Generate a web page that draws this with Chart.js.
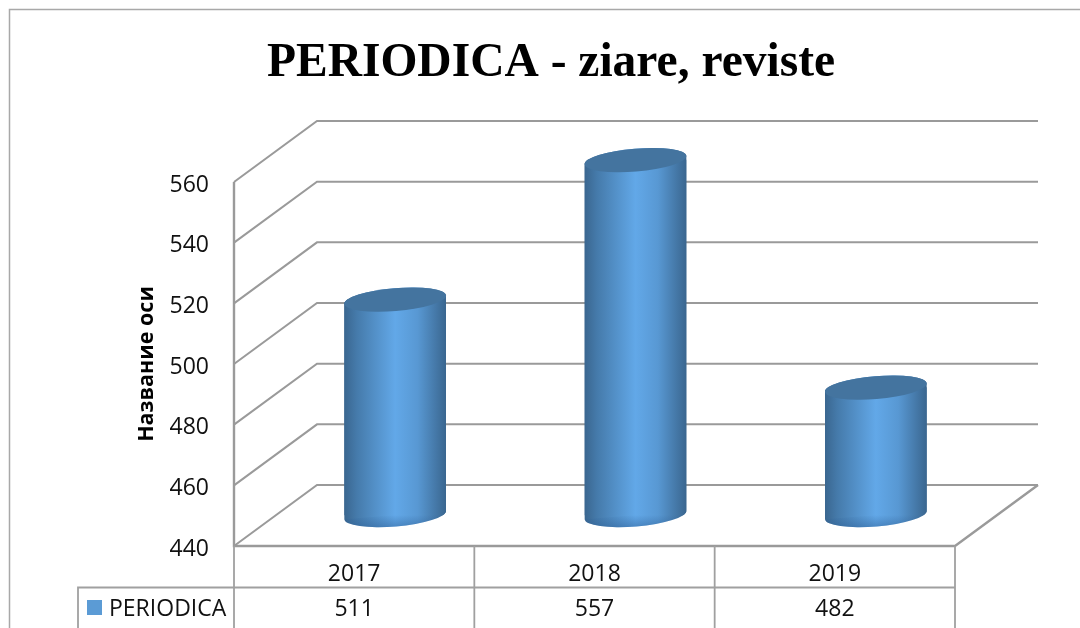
<!DOCTYPE html>
<html><head><meta charset="utf-8">
<style>html,body{margin:0;padding:0;background:#fff}canvas{display:block}</style>
<script src="https://cdn.jsdelivr.net/npm/chart.js@4"></script>
</head><body><canvas id="c" width="1080" height="628"></canvas>
<script>
const categories = ['2017', '2018', '2019'];
const seriesName = 'PERIODICA';
const seriesValues = [511, 557, 482];
const titleText = 'PERIODICA - ziare, reviste';
const yTitle = 'Название оси';
const yMin = 440, yMax = 560, yStep = 20;

const LINE = '#9a9a9a';
const DX = 83, DY = -61;          // depth of the 3D box
const BX = 41, BY = -31;          // cylinders stand mid-depth
const A = 51, B = 11.5, ROT = -0.083;
const BAR_W = 102;

function cylGrad(ctx, cx) {
  const g = ctx.createLinearGradient(cx - 51, 0, cx + 51, 0);
  g.addColorStop(0, '#3a668f');
  g.addColorStop(0.12, '#457aaa');
  g.addColorStop(0.5, '#62a8e8');
  g.addColorStop(0.72, '#5898d3');
  g.addColorStop(1, '#3a668f');
  return g;
}
function silhouette(ctx, x, top, base) {
  ctx.moveTo(x - A * Math.cos(ROT), top - A * Math.sin(ROT));
  ctx.ellipse(x, top, A, B, ROT, Math.PI, 2 * Math.PI);
  ctx.lineTo(x + A * Math.cos(ROT), base + A * Math.sin(ROT));
  ctx.ellipse(x, base, A, B, ROT, 0, Math.PI);
  ctx.closePath();
}

const box3d = {
  id: 'box3d',
  beforeDraw(chart) {
    const c = chart.ctx, { x, y } = chart.scales, area = chart.chartArea;
    c.save();
    c.fillStyle = '#fff'; c.fillRect(0, 0, chart.width, chart.height);
    c.strokeStyle = '#a8a8a8'; c.lineWidth = 1.5;
    c.beginPath(); c.moveTo(9.5, 628); c.lineTo(9.5, 9.5); c.lineTo(1080, 9.5); c.stroke();
    c.strokeStyle = LINE; c.lineWidth = 2;
    y.ticks.forEach(t => {
      const py = y.getPixelForValue(t.value);
      c.beginPath();
      c.moveTo(area.left, py);
      c.lineTo(area.left + DX, py + DY);
      c.lineTo(area.right + DX, py + DY);
      c.stroke();
    });
    c.lineWidth = 2.4;
    c.beginPath();
    c.moveTo(area.left, area.top); c.lineTo(area.left, area.bottom);
    c.lineTo(area.right, area.bottom); c.lineTo(area.right + DX, area.bottom + DY);
    c.stroke();
    // data table
    c.lineWidth = 1.8; c.strokeStyle = '#a0a0a0';
    const band = (area.right - area.left) / categories.length;
    categories.forEach((_, i) => {
      const px = x.getPixelForValue(i) - band / 2;
      c.beginPath(); c.moveTo(px, area.bottom); c.lineTo(px, 628); c.stroke();
    });
    c.beginPath(); c.moveTo(area.right, area.bottom); c.lineTo(area.right, 628); c.stroke();
    c.beginPath(); c.moveTo(78, 628); c.lineTo(78, 587.5); c.lineTo(area.right, 587.5); c.stroke();
    c.fillStyle = '#5b9bd5'; c.fillRect(87, 600, 15, 15);
    c.fillStyle = '#111'; c.font = '23px "Open Sans"'; c.textAlign = 'center'; c.textBaseline = 'middle';
    seriesValues.forEach((v, i) => c.fillText(String(v), x.getPixelForValue(i), 609));
    c.restore();
  },
  beforeDatasetsDraw(chart) {
    const c = chart.ctx, els = chart.getDatasetMeta(0).data;
    c.save();
    c.translate(BX, BY);
    c.save();
    c.beginPath();
    els.forEach(e => silhouette(c, e.x, e.y, e.base));
    c.clip();
  },
  afterDatasetsDraw(chart) {
    const c = chart.ctx, els = chart.getDatasetMeta(0).data;
    c.restore();
    els.forEach(e => {
      // full cylinder body, so the caps join the bar without notches
      c.beginPath(); silhouette(c, e.x, e.y, e.base);
      c.fillStyle = cylGrad(c, e.x); c.fill();
      // darker underside of the bottom cap
      const g = c.createLinearGradient(0, e.base, 0, e.base + B);
      g.addColorStop(0, 'rgba(45,95,150,0)');
      g.addColorStop(1, 'rgba(45,95,150,0.45)');
      c.beginPath(); c.ellipse(e.x, e.base, A, B, ROT, 0, Math.PI);
      c.fillStyle = g; c.fill();
      // top cap
      c.beginPath(); c.ellipse(e.x, e.y, A, B, ROT, 0, 2 * Math.PI);
      c.fillStyle = '#44749f'; c.fill();
    });
    c.restore();
  },
  afterLayout(chart) {
    chart.titleBlock.left = 151; chart.titleBlock.right = 951;
    chart.legend.left = 97.5; chart.legend.top = 598;
  }
};

new Chart(document.getElementById('c'), {
  type: 'bar',
  data: {
    labels: categories,
    datasets: [{
      label: seriesName,
      data: seriesValues,
      base: yMin,
      clip: false,
      barThickness: BAR_W,
      backgroundColor(ctx) {
        const xs = ctx.chart.scales.x;
        const px = xs && ctx.dataIndex !== undefined ? xs.getPixelForValue(ctx.dataIndex) : NaN;
        return Number.isFinite(px) ? cylGrad(ctx.chart.ctx, px) : '#5b9bd5';
      }
    }]
  },
  options: {
    responsive: false,
    animation: false,
    layout: { padding: { left: 0, right: 125, top: 0, bottom: 0 } },
    plugins: {
      title: {
        display: true, text: titleText, color: '#000',
        font: { family: '"Liberation Serif"', size: 47.5, weight: 'bold', lineHeight: 1.2 },
        padding: { top: 35.5, bottom: 89.5 }
      },
      legend: {
        position: 'bottom', align: 'start',
        labels: { boxWidth: 0, boxHeight: 15, padding: 0, color: '#111', font: { family: '"Open Sans"', size: 23 } }
      },
      tooltip: { enabled: false }
    },
    scales: {
      x: {
        grid: { display: false, drawTicks: false },
        border: { display: false },
        ticks: { color: '#111', padding: 15, font: { family: '"Open Sans"', size: 23 }, maxRotation: 0 },
        afterFit(s) { s.height = 49; }
      },
      y: {
        min: yMin, max: yMax,
        grid: { display: false, drawTicks: false },
        border: { display: false },
        ticks: { stepSize: yStep, color: '#111', padding: 25, labelOffset: 3, font: { family: '"Open Sans"', size: 23 } },
        title: {
          display: true, text: yTitle, color: '#000',
          font: { family: '"Open Sans"', size: 21.5, weight: 'bold' },
          padding: { top: 134, bottom: 0 }
        },
        afterFit(s) { s.width = 234; }
      }
    }
  },
  plugins: [box3d]
});
</script></body></html>
